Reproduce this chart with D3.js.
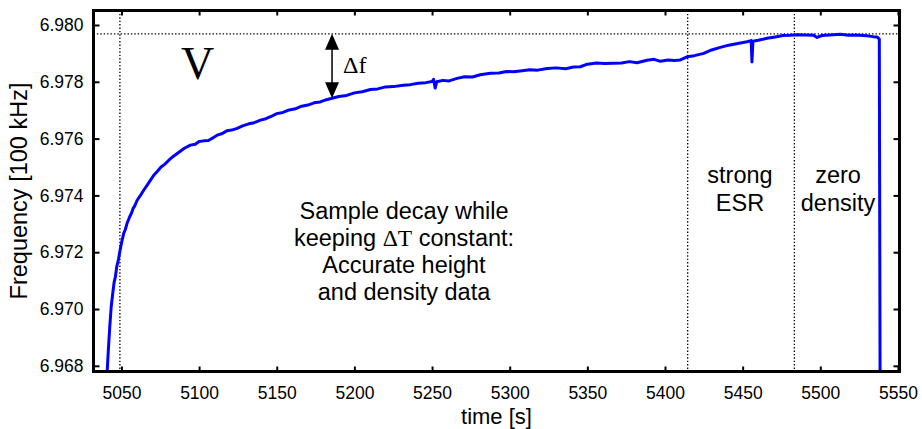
<!DOCTYPE html>
<html>
<head>
<meta charset="utf-8">
<script src="https://cdn.jsdelivr.net/npm/d3@7"></script>
<style>
  html, body { margin: 0; padding: 0; background: #fff; }
  svg { display: block; }
  .sans { font-family: "Liberation Sans", Arial, sans-serif; }
  .serif { font-family: "Liberation Serif", "Times New Roman", serif; }
</style>
</head>
<body>
<svg id="chart" width="922" height="429"></svg>
<script>
// ---- data ----
const timeValues = [
  5040.5, 5041.5, 5042.5, 5043.4, 5044.5, 5045.3, 5046.1, 5047.0, 5048.0, 5048.9,
  5050.0, 5051.5, 5052.5, 5053.5, 5055.3, 5056.5, 5057.5, 5058.5, 5060.1, 5062.0,
  5064.4, 5067.0, 5068.5, 5070.8, 5073.0, 5075.5, 5078.0, 5080.5, 5083.5, 5087.0,
  5090.5, 5094.4, 5097.5, 5100.0, 5103.0, 5106.0, 5109.0, 5111.6, 5115.0, 5118.0,
  5121.0, 5124.5, 5128.0, 5132.0, 5135.5, 5139.5, 5143.0, 5146.0, 5150.0, 5154.0,
  5158.0, 5162.0, 5166.0, 5170.0, 5174.0, 5178.0, 5182.0, 5185.6, 5190.0, 5195.0,
  5200.0, 5205.0, 5210.3, 5215.0, 5220.0, 5225.0, 5231.5, 5236.0, 5241.0, 5246.0,
  5250.0, 5251.0, 5252.0, 5253.0, 5257.0, 5261.0, 5266.1, 5271.0, 5276.0, 5281.0,
  5287.6, 5293.0, 5298.0, 5302.6, 5308.0, 5313.0, 5318.0, 5324.1, 5330.0, 5336.0,
  5341.0, 5345.5, 5350.0, 5356.0, 5361.0, 5366.9, 5372.0, 5377.0, 5382.0, 5388.4,
  5393.0, 5397.0, 5402.0, 5406.0, 5409.9, 5414.2, 5419.0, 5424.9, 5430.0, 5435.6,
  5441.0, 5446.0, 5452.8, 5455.5, 5456.0, 5456.6, 5460.0, 5465.7, 5471.0, 5476.0,
  5480.7, 5485.0, 5490.0, 5495.7, 5497.9, 5501.0, 5506.0, 5512.9, 5518.0, 5523.0,
  5530.1, 5534.0, 5536.5, 5538.0, 5538.5
];
const freqValues = [
  6.9675, 6.9685, 6.9694, 6.97008, 6.97060, 6.97095, 6.97113, 6.97150, 6.97172, 6.97201,
  6.97232, 6.97267, 6.97280, 6.97300, 6.97325, 6.97338, 6.97354, 6.97362, 6.97383, 6.97398,
  6.97419, 6.97440, 6.97452, 6.97471, 6.97484, 6.97500, 6.97510, 6.97524, 6.97538, 6.97552,
  6.97566, 6.97577, 6.97580, 6.97590, 6.97592, 6.97593, 6.97603, 6.97612, 6.97618, 6.97628,
  6.97630, 6.97636, 6.97645, 6.97652, 6.97656, 6.97665, 6.97670, 6.97677, 6.97688, 6.97692,
  6.97701, 6.97705, 6.97714, 6.97718, 6.97726, 6.97729, 6.97737, 6.97742, 6.97748, 6.97752,
  6.97761, 6.97765, 6.97773, 6.97775, 6.97782, 6.97783, 6.97788, 6.97790, 6.97795, 6.97797,
  6.97801, 6.97809, 6.97778, 6.97800, 6.97805, 6.97803, 6.97812, 6.97818, 6.97817, 6.97825,
  6.97830, 6.97831, 6.97836, 6.97835, 6.97839, 6.97842, 6.97841, 6.97847, 6.97849, 6.97846,
  6.97852, 6.97853, 6.97862, 6.97866, 6.97864, 6.97865, 6.97866, 6.97871, 6.97867, 6.97876,
  6.97879, 6.97872, 6.97877, 6.97875, 6.97877, 6.97888, 6.97892, 6.97900, 6.97912, 6.97921,
  6.97929, 6.97934, 6.97941, 6.97945, 6.97870, 6.97943, 6.97946, 6.97953, 6.97958, 6.97963,
  6.97964, 6.97966, 6.97965, 6.97964, 6.97956, 6.97963, 6.97965, 6.97967, 6.97964, 6.97965,
  6.97962, 6.97959, 6.97958, 6.97950, 6.9675
];
const xTicks = [5050, 5100, 5150, 5200, 5250, 5300, 5350, 5400, 5450, 5500, 5550];
const yTicks = [6.968, 6.970, 6.972, 6.974, 6.976, 6.978, 6.980];
const regionBoundaries = [5049, 5414.6, 5483.3];
const zeroDensityLevel = 6.97969;
const deltaArrow = { time: 5185.6, top: 6.97969, bottom: 6.97742 };
const xDomain = [5032, 5551];
const yDomain = [6.96780, 6.98051];

// ---- layout ----
const svg = d3.select("#chart");
const L = 93.5, R = 899.5, T = 10.5, B = 371.5;
const x = d3.scaleLinear().domain(xDomain).range([L, R]);
const y = d3.scaleLinear().domain(yDomain).range([B, T]);

svg.append("defs").append("clipPath").attr("id", "plotclip")
  .append("rect").attr("x", L).attr("y", T).attr("width", R - L).attr("height", B - T);

// dotted reference lines
const dot = { stroke: "#000", "stroke-width": 1.3, "stroke-dasharray": "1.4,2" };
svg.append("line").attr("x1", L).attr("x2", R)
  .attr("y1", y(zeroDensityLevel)).attr("y2", y(zeroDensityLevel))
  .attr("stroke", dot.stroke).attr("stroke-width", dot["stroke-width"]).attr("stroke-dasharray", dot["stroke-dasharray"]);
svg.selectAll("line.vb").data(regionBoundaries).join("line").attr("class", "vb")
  .attr("x1", d => x(d)).attr("x2", d => x(d)).attr("y1", T).attr("y2", B)
  .attr("stroke", dot.stroke).attr("stroke-width", dot["stroke-width"]).attr("stroke-dasharray", dot["stroke-dasharray"]);

// curve
const pts = timeValues.map((t, i) => [t, freqValues[i]]);
svg.append("path").datum(pts)
  .attr("clip-path", "url(#plotclip)")
  .attr("fill", "none").attr("stroke", "#0000ff").attr("stroke-width", 3)
  .attr("stroke-linejoin", "round")
  .attr("d", d3.line().x(d => x(d[0])).y(d => y(d[1])));

// axes (ticks inward, mirrored)
function styleAxis(g, showText) {
  g.select(".domain").remove();
  g.selectAll(".tick line").attr("stroke", "#000").attr("stroke-width", 2);
  g.selectAll(".tick text").attr("fill", "#000")
    .attr("font-family", "Liberation Sans, Arial, sans-serif").attr("font-size", 17.5);
  if (!showText) g.selectAll(".tick text").remove();
}
svg.append("g").attr("transform", `translate(0,${B})`)
  .call(d3.axisBottom(x).tickValues(xTicks).tickSize(-5).tickPadding(15).tickFormat(d3.format("d")))
  .call(g => styleAxis(g, true));
svg.append("g").attr("transform", `translate(0,${T})`)
  .call(d3.axisTop(x).tickValues(xTicks).tickSize(-5))
  .call(g => styleAxis(g, false));
svg.append("g").attr("transform", `translate(${L},0)`)
  .call(d3.axisLeft(y).tickValues(yTicks).tickSize(-6).tickPadding(10).tickFormat(d3.format(".3f")))
  .call(g => styleAxis(g, true));
svg.append("g").attr("transform", `translate(${R},0)`)
  .call(d3.axisRight(y).tickValues(yTicks).tickSize(-6))
  .call(g => styleAxis(g, false));

// frame
svg.append("rect").attr("x", L).attr("y", T).attr("width", R - L).attr("height", B - T)
  .attr("fill", "none").attr("stroke", "#000").attr("stroke-width", 3);

// axis titles
svg.append("text").attr("class", "sans").attr("x", (L + R) / 2 + 0).attr("y", 424)
  .attr("text-anchor", "middle").attr("font-size", 22).text("time [s]");
svg.append("text").attr("class", "sans")
  .attr("transform", `translate(27,${(T + B) / 2}) rotate(-90)`)
  .attr("text-anchor", "middle").attr("font-size", 23.5).text("Frequency [100 kHz]");

// V label
svg.append("text").attr("class", "serif").attr("x", x(5099)).attr("y", 79)
  .attr("text-anchor", "middle").attr("font-size", 46).text("V");

// Δf arrow
const ax = x(deltaArrow.time), ay1 = y(deltaArrow.top), ay2 = y(deltaArrow.bottom);
const hw = 7, hl = 16;
svg.append("line").attr("x1", ax).attr("x2", ax).attr("y1", ay1 + hl - 2).attr("y2", ay2 - hl + 2)
  .attr("stroke", "#000").attr("stroke-width", 1.5);
svg.append("path").attr("fill", "#000")
  .attr("d", `M${ax},${ay1} L${ax - hw},${ay1 + hl} L${ax + hw},${ay1 + hl} Z`);
svg.append("path").attr("fill", "#000")
  .attr("d", `M${ax},${ay2} L${ax - hw},${ay2 - hl} L${ax + hw},${ay2 - hl} Z`);
svg.append("text").attr("class", "serif").attr("x", ax + 11).attr("y", 73)
  .attr("font-size", 24).text("Δf");

// region annotations
const mainText = svg.append("text").attr("class", "sans").attr("text-anchor", "middle").attr("font-size", 23.5);
mainText.append("tspan").attr("x", 404).attr("y", 219).text("Sample decay while");
const l2 = mainText.append("tspan").attr("x", 404).attr("y", 246);
l2.append("tspan").text("keeping ");
l2.append("tspan").attr("font-family", "Liberation Serif, Times New Roman, serif").text("ΔT");
l2.append("tspan").text(" constant:");
mainText.append("tspan").attr("x", 404).attr("y", 273).text("Accurate height");
mainText.append("tspan").attr("x", 404).attr("y", 300).text("and density data");

const esr = svg.append("text").attr("class", "sans").attr("text-anchor", "middle").attr("font-size", 23.5);
esr.append("tspan").attr("x", 740).attr("y", 183).text("strong");
esr.append("tspan").attr("x", 740).attr("y", 211).text("ESR");
const zd = svg.append("text").attr("class", "sans").attr("text-anchor", "middle").attr("font-size", 23.5);
zd.append("tspan").attr("x", 838).attr("y", 183).text("zero");
zd.append("tspan").attr("x", 838).attr("y", 211).text("density");
</script>
</body>
</html>
